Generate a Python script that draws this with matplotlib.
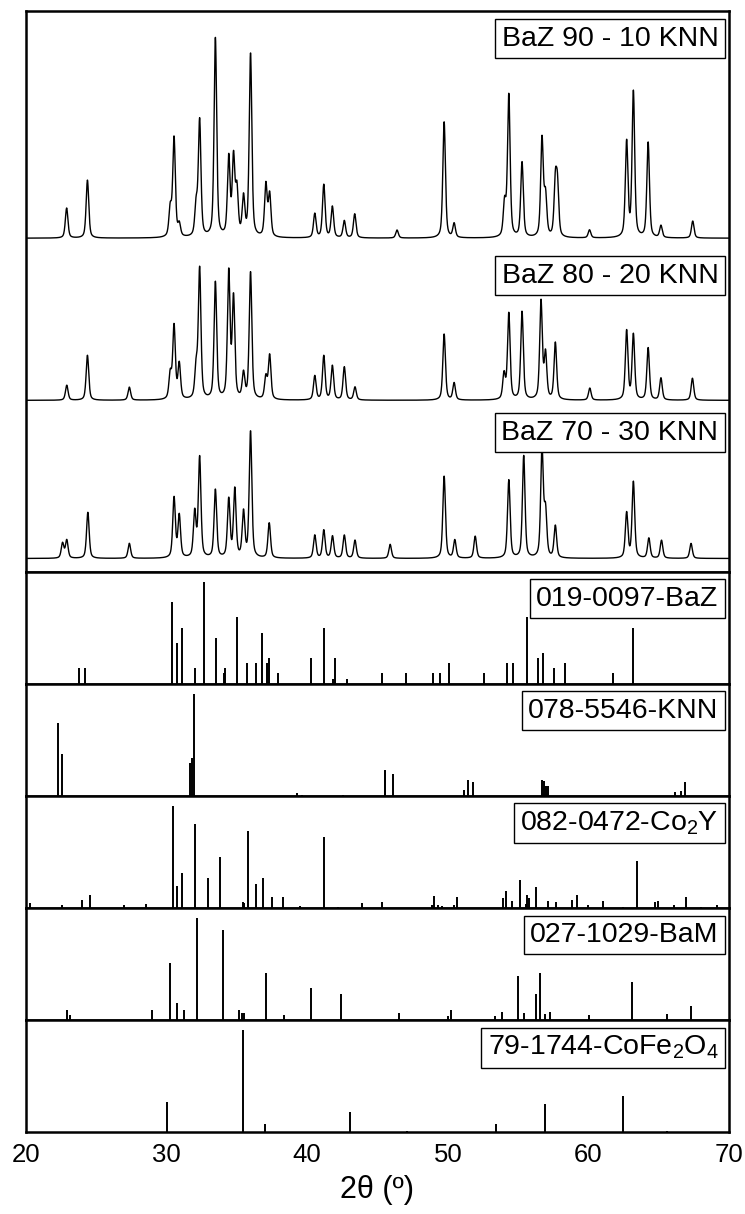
import numpy as np
import matplotlib
matplotlib.use("Agg")
import matplotlib.pyplot as plt

plt.rcParams['font.family'] = ['Liberation Sans', 'DejaVu Sans']
plt.rcParams['mathtext.fontset'] = 'custom'
plt.rcParams['mathtext.rm'] = 'Liberation Sans'
plt.rcParams['mathtext.it'] = 'Liberation Sans'

# ---- measured diffractograms: peak positions (2theta) and heights (a.u.) ----
baz90_pos = [22.89, 24.37, 30.26, 30.53, 30.90, 32.10, 32.35, 33.47, 34.42, 34.76,
             35.00, 35.47, 35.97, 37.06, 37.33, 40.54, 41.18, 41.79, 42.64, 43.38,
             46.39, 49.74, 50.45, 54.04, 54.34, 55.28, 56.70, 56.95, 57.65, 57.80,
             60.08, 62.72, 63.20, 64.25, 65.16, 67.42]
baz90_int = [30, 58, 28, 99, 12, 30, 116, 199, 78, 77,
             45, 38, 183, 52, 42, 24, 53, 31, 17, 24,
             8, 116, 14, 33, 142, 75, 98, 40, 52, 48,
             8, 95, 145, 95, 12, 17]

baz80_pos = [22.90, 24.37, 27.35, 30.26, 30.53, 30.90, 32.10, 32.35, 33.47, 34.42,
             34.76, 35.47, 35.97, 37.06, 37.33, 40.54, 41.18, 41.79, 42.64, 43.40,
             49.74, 50.45, 54.00, 54.34, 55.28, 56.63, 56.95, 57.65, 60.10, 62.72,
             63.20, 64.25, 65.16, 67.40]
baz80_int = [15, 45, 13, 25, 73, 35, 30, 130, 117, 126,
             100, 25, 127, 22, 44, 24, 44, 34, 33, 13,
             66, 17, 25, 86, 88, 98, 45, 57, 12, 69,
             65, 52, 22, 22]

baz70_pos = [22.60, 22.90, 24.40, 27.35, 30.53, 30.90, 32.00, 32.35, 33.47, 34.42,
             34.85, 35.47, 35.97, 37.30, 40.54, 41.18, 41.80, 42.64, 43.40, 45.90,
             49.74, 50.50, 51.95, 54.34, 55.40, 56.70, 56.95, 57.65, 62.72, 63.20,
             64.30, 65.20, 67.30]
baz70_int = [15, 18, 46, 15, 60, 42, 45, 100, 68, 58,
             68, 45, 126, 35, 23, 28, 22, 23, 18, 14,
             82, 18, 22, 78, 102, 108, 45, 32, 45, 76,
             20, 18, 15]

sample_names = ['BaZ 90 - 10 KNN', 'BaZ 80 - 20 KNN', 'BaZ 70 - 30 KNN']
sample_offsets = [333, 171, 13]

# ---- reference cards: stick positions and relative intensities ----
baz_pos = [23.76, 24.20, 30.36, 30.77, 31.10, 32.05, 32.63, 33.54, 34.05, 34.18,
           35.03, 35.74, 36.35, 36.79, 37.16, 37.29, 37.94, 40.24, 41.22, 41.83,
           42.00, 42.84, 45.31, 47.03, 48.93, 49.47, 50.08, 52.55, 54.20, 54.61,
           55.65, 56.40, 56.80, 57.55, 58.36, 61.77, 63.16]
baz_int = [15, 15, 80, 40, 55, 15, 100, 45, 10, 15,
           65, 20, 20, 50, 20, 25, 10, 25, 55, 5,
           25, 5, 10, 10, 10, 10, 20, 10, 20, 20,
           65, 25, 30, 15, 20, 10, 55]

knn_pos = [22.28, 22.58, 31.68, 31.80, 31.92, 39.25, 39.60, 42.57, 45.51, 45.55,
           46.12, 51.16, 51.46, 51.80, 56.67, 56.84, 57.00, 57.10, 66.17, 66.58,
           66.88]
knn_int = [71, 41, 32, 37, 100, 3, 1, 1, 25, 24,
           21, 6, 15, 13, 15, 14, 10, 10, 4, 5,
           13]

co2y_pos = [20.25, 22.58, 23.97, 24.55, 26.98, 28.53, 30.43, 30.77, 31.10, 32.02,
            32.93, 33.78, 35.40, 35.52, 35.81, 36.35, 36.86, 37.50, 38.31, 39.50,
            41.18, 42.20, 43.92, 45.31, 48.90, 49.03, 49.30, 49.60, 50.45, 50.62,
            53.90, 54.17, 54.57, 55.12, 55.56, 55.63, 55.77, 56.30, 57.15, 57.68,
            58.83, 59.21, 59.99, 61.07, 62.46, 63.47, 64.76, 64.96, 66.11, 66.96,
            68.04, 69.12]
co2y_int = [5, 3, 8, 13, 3, 4, 100, 21, 34, 82,
            29, 50, 6, 5, 75, 23, 29, 11, 11, 2,
            69, 1, 5, 6, 3, 12, 3, 2, 3, 11,
            10, 16, 7, 27, 4, 13, 10, 20, 7, 6,
            8, 13, 3, 7, 1, 46, 6, 7, 3, 11,
            1, 3]

bam_pos = [22.92, 23.16, 28.97, 30.26, 30.77, 31.27, 32.15, 34.01, 35.13, 35.33,
           35.50, 37.09, 38.38, 40.27, 42.40, 46.56, 50.04, 50.25, 53.39, 53.83,
           55.01, 55.40, 56.30, 56.57, 56.90, 57.30, 60.02, 63.07, 65.60, 67.33]
bam_int = [10, 5, 10, 56, 17, 10, 100, 88, 10, 7,
           7, 46, 5, 31, 25, 7, 4, 10, 4, 8,
           43, 7, 25, 46, 6, 8, 5, 37, 6, 14]

cfo_pos = [30.02, 35.43, 37.02, 43.04, 47.10, 53.46, 56.94, 62.49, 65.60]
cfo_int = [29, 100, 7.5, 20, 1, 8, 27, 35, 1]

card_names = ['019-0097-BaZ', '078-5546-KNN', r'082-0472-Co$_2$Y',
              '027-1029-BaM', r'79-1744-CoFe$_2$O$_4$']
card_pos = [baz_pos, knn_pos, co2y_pos, bam_pos, cfo_pos]
card_int = [baz_int, knn_int, co2y_int, bam_int, cfo_int]

x_ticks = [20, 30, 40, 50, 60, 70]


def profile(theta, centers, heights, fwhm=0.22):
    """Sum of pseudo-Voigt peaks on a 2theta grid."""
    y = np.zeros_like(theta)
    hw = fwhm / 2.0
    for c, h in zip(centers, heights):
        d = theta - c
        lor = 1.0 / (1.0 + (d / hw) ** 2)
        gau = np.exp(-np.log(2) * (d / hw) ** 2)
        y += h * (0.5 * lor + 0.5 * gau)
    return y


fig = plt.figure(figsize=(7.45, 12.14), dpi=100)
gs = fig.add_gridspec(6, 1, height_ratios=[5, 1, 1, 1, 1, 1], hspace=0,
                      left=26 / 745, right=729 / 745,
                      top=1 - 11 / 1214, bottom=1 - 1132 / 1214)

axes = [fig.add_subplot(gs[0])]
for i in range(1, 6):
    axes.append(fig.add_subplot(gs[i], sharex=axes[0]))

label_box = dict(boxstyle='square,pad=0.22', fc='white', ec='black', lw=1.0)
font_size = 20.5

# Measured patterns, stacked with vertical offsets
theta = np.linspace(20, 70, 4001)
ax = axes[0]
patterns = [(baz90_pos, baz90_int), (baz80_pos, baz80_int), (baz70_pos, baz70_int)]
for (pos, inten), off in zip(patterns, sample_offsets):
    ax.plot(theta, off + profile(theta, pos, inten), color='black', lw=1.0)
ax.set_ylim(0, 560)
label_y = [0.974, 0.551, 0.271]
for name, yy in zip(sample_names, label_y):
    ax.text(0.985, yy, name, transform=ax.transAxes, ha='right', va='top',
            fontsize=font_size, bbox=label_box)

# Reference stick patterns
for ax, pos, inten, name in zip(axes[1:], card_pos, card_int, card_names):
    ax.vlines(pos, 0, inten, color='black', lw=1.4)
    ax.set_ylim(0, 110)
    ax.text(0.985, 0.875, name, transform=ax.transAxes, ha='right', va='top',
            fontsize=font_size, bbox=label_box)

for ax in axes:
    ax.set_yticks([])
    for sp in ax.spines.values():
        sp.set_linewidth(1.8)
    ax.tick_params(axis='x', length=0, labelbottom=False)

axes[0].set_xlim(20, 70)
axes[0].set_xticks(x_ticks)
axes[-1].tick_params(axis='x', labelbottom=True, labelsize=18.5, pad=8)
axes[-1].set_xlabel('2θ (º)', fontsize=22, labelpad=6)

fig.savefig('out.png', dpi=100)
